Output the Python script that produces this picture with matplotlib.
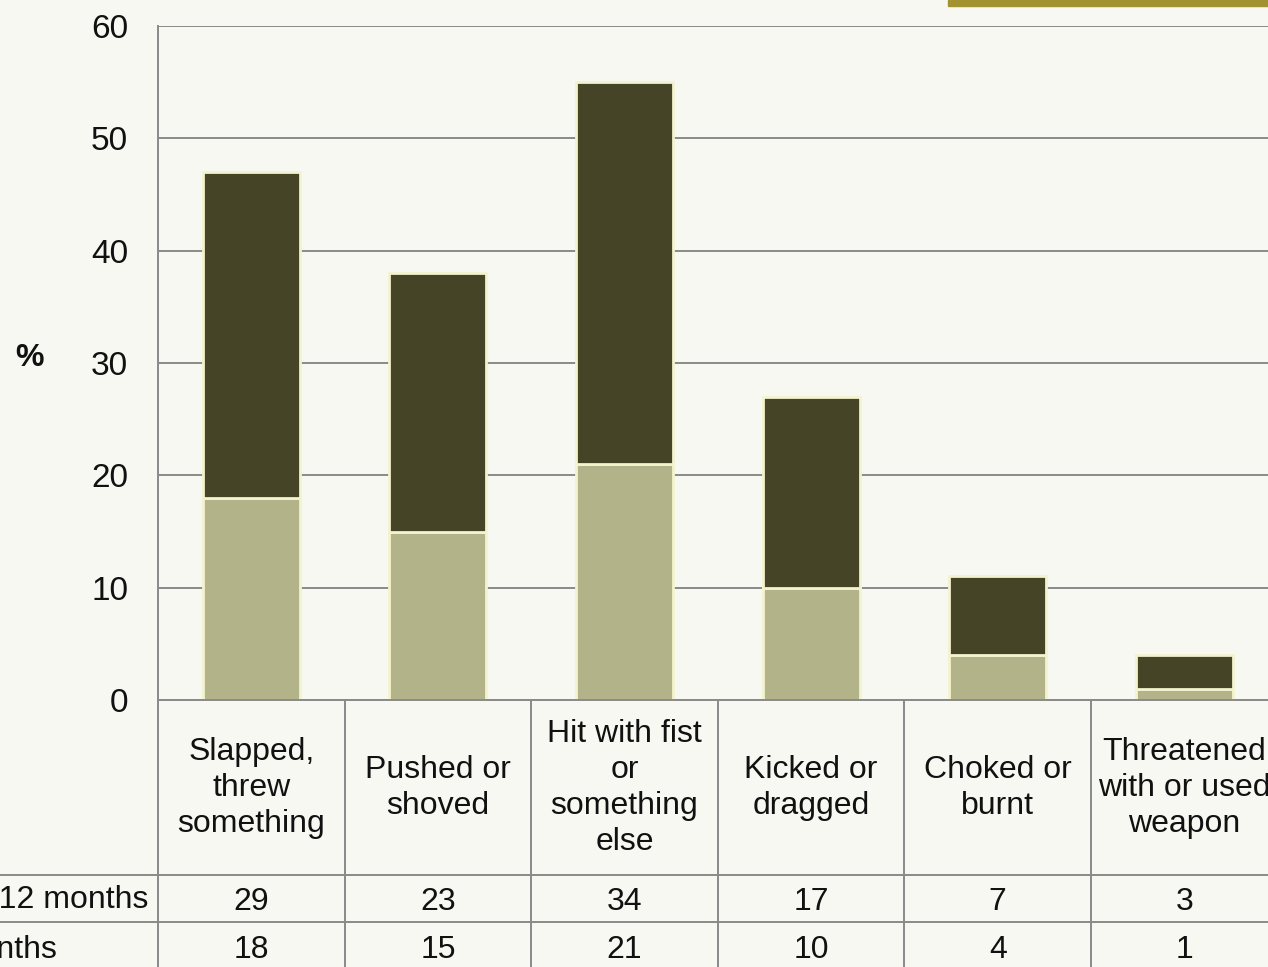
import matplotlib.pyplot as plt
from matplotlib.patches import Rectangle

plt.rcParams['font.family'] = ['Liberation Sans', 'DejaVu Sans']

# data
categories = [
    "Slapped,\nthrew\nsomething",
    "Pushed or\nshoved",
    "Hit with fist\nor\nsomething\nelse",
    "Kicked or\ndragged",
    "Choked or\nburnt",
    "Threatened\nwith or used\nweapon",
]
in_last_12 = [18, 15, 21, 10, 4, 1]
before_last_12 = [29, 23, 34, 17, 7, 3]
row_labels = ["Prior to last 12 months", "In last 12 months"]
yticks = [0, 10, 20, 30, 40, 50, 60]

BG = '#f8f8f3'
DARK = '#454426'
LIGHT = '#b3b38a'
EDGE = '#f3f3cf'
LINE = '#8a8a8a'
TXT = '#111111'

W, H = 1268, 967
fig = plt.figure(figsize=(W / 100, H / 100), dpi=100, facecolor=BG)

# plot area runs a little past the right edge of the figure
col_w = 186.6
left = 158
right = left + 6 * col_w
ax = fig.add_axes([left / W, 1 - 700 / H, (right - left) / W, (700 - 26) / H])
ax.set_facecolor(BG)

x = [i + 0.5 for i in range(len(categories))]
ax.bar(x, in_last_12, width=0.52, color=LIGHT, edgecolor=EDGE, linewidth=2, zorder=3)
ax.bar(x, before_last_12, width=0.52, bottom=in_last_12, color=DARK,
       edgecolor=EDGE, linewidth=2, zorder=3)

ax.set_xlim(0, 6)
ax.set_ylim(0, 60)
ax.set_yticks(yticks)
ax.set_yticklabels([str(t) for t in yticks], fontsize=24, color=TXT)
ax.tick_params(axis='y', length=0, pad=21.5)
ax.set_xticks([])
ax.grid(axis='y', color=LINE, linewidth=1.4, zorder=0)
for s in ['top', 'right', 'bottom']:
    ax.spines[s].set_visible(False)
ax.spines['left'].set_color(LINE)
ax.spines['left'].set_linewidth(1.4)

fig.text(30 / W, 1 - 358 / H, '%', fontsize=23, fontweight='bold',
         ha='center', va='center', color=TXT)

# data table under the bars, y in pixels measured down from the axis
tab_h = H - 700
tab = fig.add_axes([left / W, 0, (right - left) / W, tab_h / H])
tab.set_xlim(0, 6)
tab.set_ylim(tab_h, 0)
tab.axis('off')
tab.patch.set_alpha(0)

tab.plot([0, 6], [0, 0], color=LINE, lw=1.4, clip_on=False)
for yy in [175, 222]:
    tab.plot([-left / col_w, 6], [yy, yy], color=LINE, lw=1.4, clip_on=False)
for i in range(7):
    tab.plot([i, i], [0, tab_h + 3], color=LINE, lw=1.4, clip_on=False)

for i, cat in enumerate(categories):
    tab.text(i + 0.5, 88, cat, fontsize=23, ha='center', va='center',
             linespacing=1.27, color=TXT)
    tab.text(i + 0.5, 198, str(before_last_12[i]), fontsize=23,
             ha='center', va='center_baseline', color=TXT)
    tab.text(i + 0.5, 247, str(in_last_12[i]), fontsize=23,
             ha='center', va='center_baseline', color=TXT)

# row labels spill off the left edge
fig.text(148 / W, 1 - 897 / H, row_labels[0], fontsize=23, ha='right',
         va='center_baseline', color=TXT)
fig.text(57 / W, 1 - 946 / H, row_labels[1], fontsize=23, ha='right',
         va='center_baseline', color=TXT)

# gold header strip
fig.patches.append(Rectangle((948 / W, 1 - 6 / H), (W - 948) / W, 6 / H,
                             transform=fig.transFigure, color='#a39230'))

fig.savefig('out.png', dpi=100, facecolor=BG)
